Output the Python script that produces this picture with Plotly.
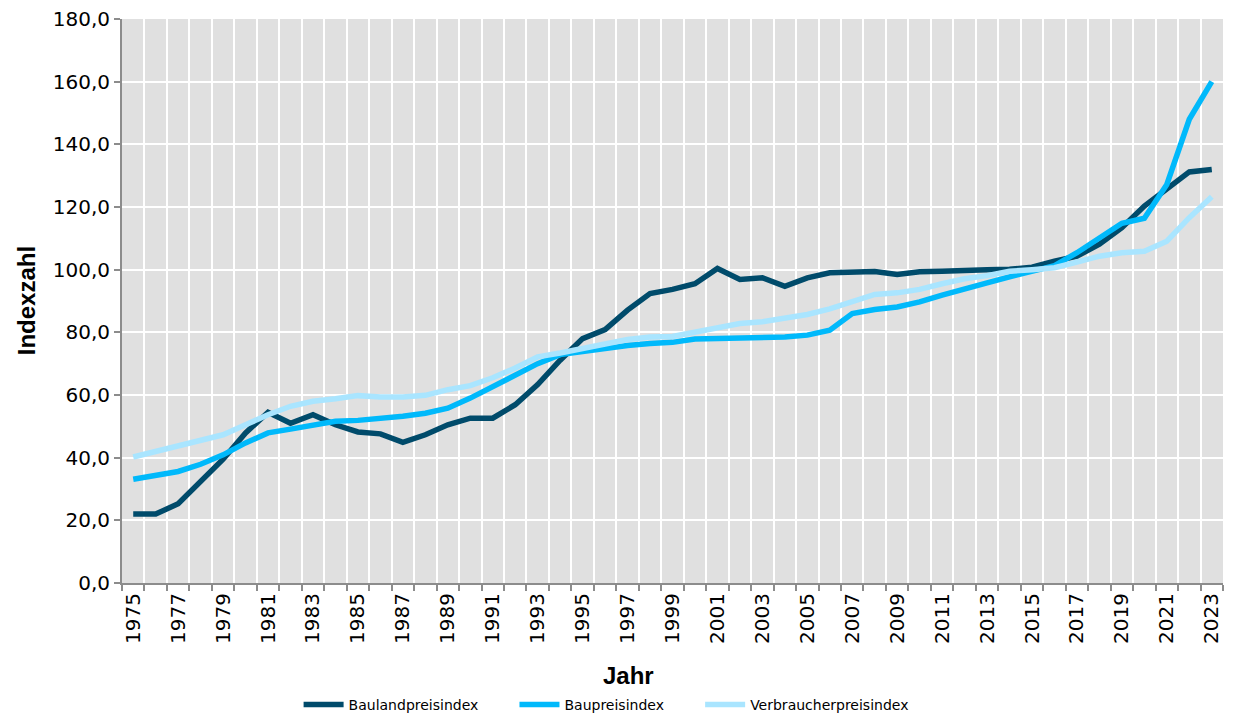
import plotly.graph_objects as go

years = list(range(1975, 2024))

bauland = [22.0, 22.0, 25.3, 32.4, 39.5, 47.9, 54.5, 51.0, 53.7, 50.5,
           48.2, 47.6, 44.9, 47.3, 50.5, 52.6, 52.6, 56.9, 63.3, 71.1,
           78.0, 80.9, 87.1, 92.4, 93.7, 95.5, 100.4, 96.9, 97.4, 94.7,
           97.4, 99.0, 99.2, 99.4, 98.5, 99.3, 99.5, 99.9, 100.0, 100.1,
           100.8, 102.7, 104.3, 108.1, 113.4, 120.3, 125.6, 131.2, 132.0]

baupreis = [33.1, 34.2, 35.6, 37.9, 40.9, 44.7, 47.9, 49.1, 50.5, 51.6,
            51.9, 52.5, 53.2, 54.2, 55.8, 59.0, 62.6, 66.5, 70.0, 72.9,
            73.9, 75.0, 75.8, 76.4, 76.8, 77.9, 78.0, 78.0, 78.0, 78.5,
            79.1, 80.7, 86.0, 87.3, 88.1, 89.7, 91.9, 94.0, 95.8, 97.7,
            99.6, 101.3, 105.4, 110.2, 114.8, 116.4, 127.2, 148.0, 160.0]

verbraucher = [40.2, 42.0, 43.8, 45.2, 47.3, 50.5, 53.7, 56.4, 58.0, 58.8,
               59.8, 59.4, 59.4, 59.9, 61.7, 63.0, 65.5, 68.6, 72.2, 73.4,
               75.0, 76.3, 77.7, 78.5, 78.7, 80.0, 81.7, 82.8, 83.4, 84.5,
               85.7, 87.5, 89.9, 92.1, 92.6, 93.7, 95.5, 97.1, 98.1, 99.5,
               100.0, 100.6, 102.4, 104.3, 105.4, 105.9, 109.1, 116.6, 123.3]

series = [
    ("Baulandpreisindex", bauland, "#004b6b"),
    ("Baupreisindex", baupreis, "#00b9fb"),
    ("Verbraucherpreisindex", verbraucher, "#a9e5ff"),
]

# a few no-break spaces widen the gap between legend entries
pad = "\u00a0" * 7

fig = go.Figure()
for i, (name, vals, col) in enumerate(series):
    fig.add_trace(go.Scatter(
        x=years, y=vals, name=name + (pad if i < len(series) - 1 else ""),
        mode="lines", line=dict(color=col, width=5.5),
    ))

label_years = years[::2]

fig.update_layout(
    width=1242, height=717,
    margin=dict(l=122, r=19, t=19, b=134),
    paper_bgcolor="white",
    plot_bgcolor="#e0e0e0",
    separators=",.",
    font=dict(family="DejaVu Sans", size=20, color="black"),
    showlegend=True,
    legend=dict(
        orientation="h", xref="container", x=0.488, xanchor="center",
        yref="container", y=0.017, yanchor="middle",
        font=dict(family="DejaVu Sans", size=14),
        itemwidth=40, tracegroupgap=0,
    ),
    annotations=[
        dict(text="<b>Indexzahl</b>", xref="paper", yref="paper",
             x=-0.087, y=0.5, xanchor="center", yanchor="middle",
             textangle=-90, showarrow=False,
             font=dict(family="Liberation Sans", size=24)),
        dict(text="<b>Jahr</b>", xref="paper", yref="paper",
             x=0.46, y=-0.164, xanchor="center", yanchor="middle",
             showarrow=False,
             font=dict(family="Liberation Sans", size=24)),
    ],
)

fig.update_xaxes(
    range=[1974.5, 2023.5],
    tickmode="array", tickvals=label_years, ticktext=[str(y) for y in label_years],
    tickangle=-90, ticks="", showgrid=False,
    showline=True, linecolor="#8c8c8c", linewidth=2,
    zeroline=False, automargin=False,
    minor=dict(tick0=1974.5, dtick=1, showgrid=True, gridcolor="white",
               gridwidth=2, ticks="outside", ticklen=6, tickcolor="#8c8c8c",
               tickwidth=1.5),
)

fig.update_yaxes(
    range=[0, 180], dtick=20, tickformat=".1f",
    showgrid=True, gridcolor="white", gridwidth=2,
    ticks="outside", ticklen=6, tickcolor="#8c8c8c", tickwidth=1.5,
    showline=True, linecolor="#8c8c8c", linewidth=2,
    zeroline=False, automargin=False,
)

# page body has a default margin, drop it so the figure sits at 0,0
fig.write_html("out.html", config={"displayModeBar": False},
               post_script="document.body.style.margin='0';")
